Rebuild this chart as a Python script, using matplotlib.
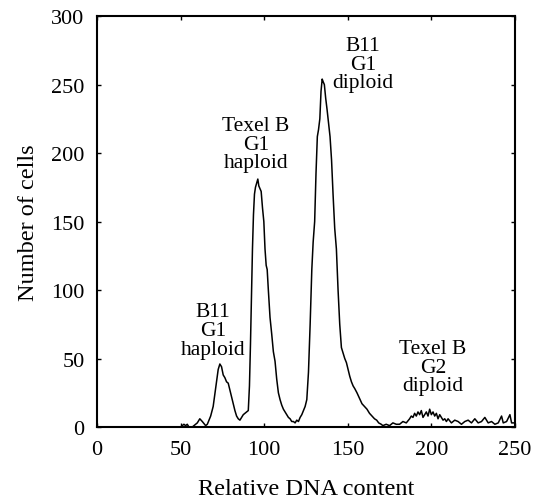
import matplotlib
matplotlib.use("Agg")
import matplotlib.pyplot as plt

# Relative DNA content (channel) and number of cells
dna = [0, 50, 52, 53, 54, 55, 57, 60, 61.5, 63, 65, 66, 68, 69.5, 70.5, 71.5, 72.5, 73.5,
       74.5, 75.5, 76.5, 77.5, 78.5, 79.5, 80.5, 81.5, 82.5, 83.5, 84.5, 85.5, 86.5, 87.5,
       88.5, 89.5, 90.5, 91.2, 91.8, 92.4, 93, 93.6, 94.2, 94.8, 95.5, 96.2, 96.8, 97.5,
       98.2, 99, 99.8, 100.5, 101.2, 101.8, 102.5, 103.5, 104.5, 105.5, 106.5, 107.5,
       108.5, 109.5, 110.5, 111.5, 112.5, 113.5, 114.5, 115.5, 116.5, 117.5, 118.5, 119.5,
       120.5, 121.5, 122.5, 123.5, 124.5, 125.5, 126.5, 127.5, 128.5, 129.3, 130.2, 131,
       131.8, 132.5, 133.3, 134, 134.7, 135.3, 136, 136.8, 137.6, 138.5, 139.4, 140.3,
       141.2, 142.2, 143.2, 144.2, 145.2, 146.2, 147.2, 148.2, 149.2, 150.2, 151.2, 152.2,
       153.2, 154.2, 155.5, 157, 158.5, 160, 161.5, 163, 164.5, 166, 167.3, 168.5, 170,
       171, 173, 175, 177, 179, 181, 183, 185, 187, 188, 189, 190, 191, 192, 193, 194, 195,
       196, 197, 198, 199, 200, 201, 202, 203, 204, 205, 206, 207, 208, 209, 210, 212, 214,
       216, 218, 220, 222, 224, 226, 228, 230, 232, 234, 236, 238, 240, 242, 243, 245, 247,
       248, 250]
cells = [0, 0, 2, 1, 2, 0, 0, 3, 6, 4, 1, 2, 8, 15, 24, 33, 42, 46,
         44, 38, 36, 33, 32, 27, 22, 17, 12, 8, 6, 5, 7, 9,
         10, 11, 12, 30, 60, 95, 130, 155, 170, 175, 178, 181, 176, 174,
         172, 160, 150, 130, 118, 115, 100, 80, 68, 55, 48, 35,
         25, 20, 16, 13, 11, 9, 7, 6, 4, 4, 3, 5,
         4, 7, 9, 12, 15, 20, 40, 75, 115, 135, 150, 185,
         212, 217, 225, 245, 254, 252, 250, 240, 232, 222, 212, 195,
         170, 145, 130, 100, 75, 58, 54, 50, 47, 42, 37, 33,
         30, 28, 25, 21, 17, 15, 13, 10, 8, 6, 5, 3, 2,
         1, 2, 1, 3, 2, 2, 4, 3, 6, 8, 7, 10, 8, 11, 9, 12, 7,
         9, 11, 8, 13, 9, 11, 8, 10, 6, 9, 7, 5, 6, 4, 6, 3, 5,
         4, 2, 4, 5, 3, 6, 3, 4, 7, 3, 4, 2, 3, 8, 3, 4, 9,
         3, 3]

peak_labels = ["B11\nG1\nhaploid", "Texel B\nG1\nhaploid", "B11\nG1\ndiploid", "Texel B\nG2\ndiploid"]
label_x = [69.5, 95, 159, 201]
label_y = [91, 227, 285.5, 64]

x_ticks = [0, 50, 100, 150, 200, 250]
y_ticks = [0, 50, 100, 150, 200, 250, 300]

plt.rcParams['font.family'] = ['Liberation Serif', 'DejaVu Serif']

fig = plt.figure(figsize=(5.4, 5.02), dpi=100)
ax = fig.add_axes([0.1796, 0.1474, 0.774, 0.8186])

ax.plot(dna, cells, color='black', linewidth=1.1)

for t, x, y in zip(peak_labels, label_x, label_y):
    ax.text(x, y, t, ha='center', va='top', fontsize=15.5, linespacing=0.97)

ax.set_xlim(0, 250)
ax.set_ylim(0, 300)
ax.set_xticks(x_ticks)
ax.set_yticks(y_ticks)
ax.tick_params(direction='in', length=3, width=1, top=True, right=True,
               labelsize=16, pad=9)
for s in ax.spines.values():
    s.set_linewidth(1.5)

ax.set_xlabel("Relative DNA content", fontsize=17.5, labelpad=14)
ax.set_ylabel("Number of cells", fontsize=17.5, labelpad=9)

fig.savefig("out.png", dpi=100)
